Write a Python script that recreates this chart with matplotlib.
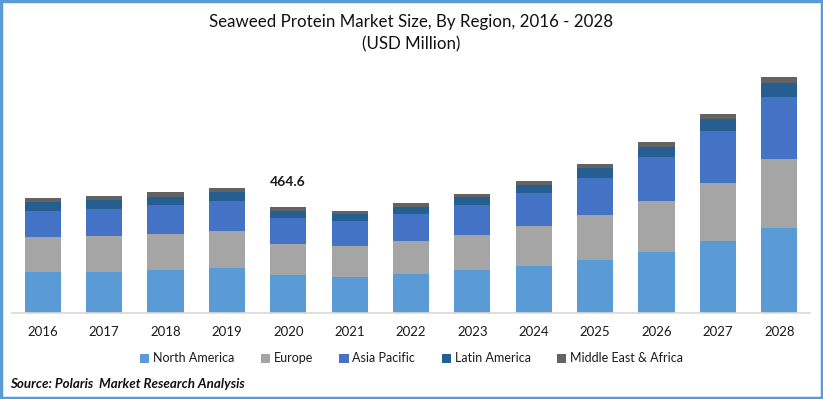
import matplotlib
matplotlib.use("Agg")
import matplotlib.pyplot as plt
import numpy as np

years = ["2016", "2017", "2018", "2019", "2020", "2021", "2022",
         "2023", "2024", "2025", "2026", "2027", "2028"]
north_america = [180.5, 180.5, 189.2, 198.0, 167.4, 158.6, 171.7,
                 189.2, 206.7, 232.9, 267.9, 316.0, 372.8]
europe = [153.0, 157.3, 157.3, 161.7, 135.5, 135.5, 144.2,
          153.0, 174.8, 196.7, 222.9, 253.5, 301.5]
asia_pacific = [113.6, 118.0, 126.7, 131.1, 113.6, 109.3, 118.0,
                131.1, 144.2, 161.7, 192.3, 227.2, 270.9]
latin_america = [39.3, 39.3, 33.6, 39.3, 30.6, 30.6, 30.6,
                 35.0, 35.0, 43.7, 43.7, 52.4, 61.2]
mea = [17.5, 17.5, 23.2, 17.5, 17.5, 13.1, 17.5,
       13.1, 17.5, 17.5, 21.9, 21.9, 26.2]

series = [
    ("North America", north_america, "#5B9BD5"),
    ("Europe", europe, "#A5A5A5"),
    ("Asia Pacific", asia_pacific, "#4472C4"),
    ("Latin America", latin_america, "#255E91"),
    ("Middle East & Africa", mea, "#636363"),
]

plt.rcParams["font.family"] = ["Lato", "DejaVu Sans"]

W, H = 823, 399
fig = plt.figure(figsize=(W / 100, H / 100), dpi=100)

# axes placed in pixel terms: baseline at y=313, plot spans x 12..810
px_per_unit = 1 / 4.37
ymax = 1100
ax_h = ymax * px_per_unit
ax = fig.add_axes([12 / W, 1 - 313.3 / H, (810 - 12) / W, ax_h / H])

x = np.arange(len(years))
bottom = np.zeros(len(years))
for name, vals, color in series:
    ax.bar(x, vals, 0.59, bottom=bottom, color=color, label=name, linewidth=0)
    bottom += np.array(vals)

# total label for 2020
i20 = years.index("2020")
ax.annotate(f"{bottom[i20]:.1f}", (x[i20], bottom[i20]), xytext=(0, 14),
            textcoords="offset points", ha="center", va="bottom",
            fontsize=10, fontweight="bold", color="#1a1a1a")

ax.set_xlim(-0.5, len(years) - 0.5)
ax.set_ylim(0, ymax)
ax.set_xticks(x)
ax.set_xticklabels(years, fontsize=9.5, color="#1a1a1a")
ax.tick_params(axis="x", length=0, pad=9)
ax.set_yticks([])
for s in ["top", "right", "left"]:
    ax.spines[s].set_visible(False)
ax.spines["bottom"].set_color("#D9D9D9")
ax.spines["bottom"].set_linewidth(1.2)

fig.text(0.5, 1 - 22 / H, "Seaweed Protein Market Size, By Region, 2016 - 2028",
         ha="center", va="center", fontsize=12.2, color="#111111")
fig.text(0.5, 1 - 44 / H, "(USD Million)", ha="center", va="center",
         fontsize=12.2, color="#111111")

fig.legend(loc="center", bbox_to_anchor=(0.5, 1 - 358.5 / H), ncol=5,
           frameon=False, fontsize=9, handlelength=0.75, handleheight=0.75,
           handletextpad=0.3, columnspacing=2.1, labelcolor="#1a1a1a")

fig.text(10 / W, 1 - 384 / H, "Source: Polaris  Market Research Analysis",
         ha="left", va="center", fontsize=9.6, fontweight="bold",
         fontstyle="italic", color="#111111")

# blue frame around the whole image
fig.patches.append(plt.Rectangle((0.0015, 0.003), 0.997, 0.994,
                                 transform=fig.transFigure, fill=False,
                                 edgecolor="#5B9BD5", linewidth=2.5))

fig.savefig("out.png", dpi=100)
